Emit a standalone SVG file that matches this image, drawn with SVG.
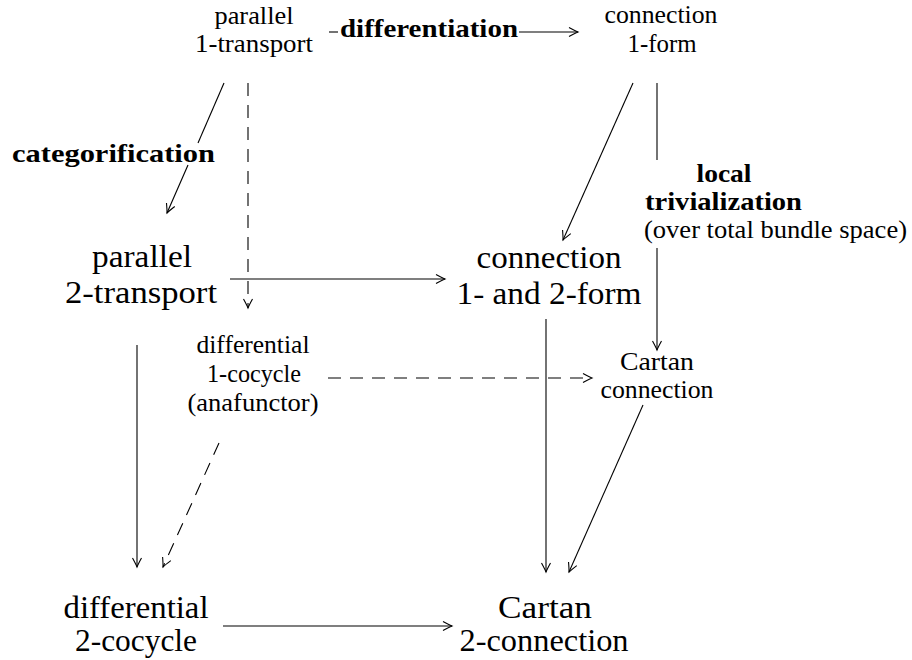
<svg xmlns="http://www.w3.org/2000/svg" width="912" height="660" viewBox="0 0 912 660" font-family="Liberation Serif, serif">
<defs>
<marker id="ah" markerUnits="userSpaceOnUse" markerWidth="20" markerHeight="20" viewBox="-12 -10 20 20" refX="0" refY="0" orient="auto" overflow="visible">
<path d="M-9,-4.5 Q-3,-1.2 0,0 Q-3,1.2 -9,4.5" fill="none" stroke="#000" stroke-width="1.1" stroke-dasharray="none"/>
</marker>
<style>
text{fill:#000;text-anchor:middle}
.s{font-size:25px}
.b{font-size:32px}
.l{font-size:25px;font-weight:bold}
.st{text-anchor:start}
.c line{stroke:#000;stroke-width:1.1;fill:none}
.c .d{stroke-dasharray:13 9}
.c .a{marker-end:url(#ah)}
</style>
</defs>
<rect width="912" height="660" fill="#fff"/>
<g id="n-par1" font-family="Liberation Serif, serif">
<text class="s" x="254" y="24" textLength="79" lengthAdjust="spacingAndGlyphs">parallel</text>
<text class="s" x="254" y="52" textLength="118" lengthAdjust="spacingAndGlyphs">1-transport</text>
</g>
<g id="n-conn1" font-family="Liberation Serif, serif">
<text class="s" x="661" y="23" textLength="113" lengthAdjust="spacingAndGlyphs">connection</text>
<text class="s" x="662" y="52" textLength="69" lengthAdjust="spacingAndGlyphs">1-form</text>
</g>
<g id="n-par2" font-family="Liberation Serif, serif">
<text class="b" x="142" y="267" textLength="100" lengthAdjust="spacingAndGlyphs">parallel</text>
<text class="b" x="141" y="303" textLength="152" lengthAdjust="spacingAndGlyphs">2-transport</text>
</g>
<g id="n-conn12" font-family="Liberation Serif, serif">
<text class="b" x="549" y="268" textLength="145" lengthAdjust="spacingAndGlyphs">connection</text>
<text class="b" x="549" y="304" textLength="185" lengthAdjust="spacingAndGlyphs">1- and 2-form</text>
</g>
<g id="n-diff1" font-family="Liberation Serif, serif">
<text class="s" x="253" y="353" textLength="113" lengthAdjust="spacingAndGlyphs">differential</text>
<text class="s" x="254" y="382" textLength="94" lengthAdjust="spacingAndGlyphs">1-cocycle</text>
<text class="s" x="253" y="411" textLength="131" lengthAdjust="spacingAndGlyphs">(anafunctor)</text>
</g>
<g id="n-cartan" font-family="Liberation Serif, serif">
<text class="s" x="657" y="370" textLength="74" lengthAdjust="spacingAndGlyphs">Cartan</text>
<text class="s" x="657" y="398" textLength="113" lengthAdjust="spacingAndGlyphs">connection</text>
</g>
<g id="n-diff2" font-family="Liberation Serif, serif">
<text class="b" x="136" y="618" textLength="145" lengthAdjust="spacingAndGlyphs">differential</text>
<text class="b" x="136" y="651" textLength="122" lengthAdjust="spacingAndGlyphs">2-cocycle</text>
</g>
<g id="n-cartan2" font-family="Liberation Serif, serif">
<text class="b" x="545" y="618" textLength="94" lengthAdjust="spacingAndGlyphs">Cartan</text>
<text class="b" x="544" y="651" textLength="169" lengthAdjust="spacingAndGlyphs">2-connection</text>
</g>
<g id="connectors" class="c">
<line x1="329" y1="32" x2="338" y2="32"/>
<line class="a" x1="519" y1="32" x2="578" y2="32"/>
<line x1="224" y1="83" x2="198" y2="143"/>
<line class="a" x1="188" y1="165" x2="167" y2="213"/>
<line class="d a" x1="248" y1="83" x2="248" y2="308"/>
<line class="a" x1="230" y1="279" x2="445" y2="279"/>
<line class="a" x1="633" y1="83" x2="563" y2="240"/>
<line x1="657" y1="83" x2="657" y2="160"/>
<line class="a" x1="657" y1="248" x2="657" y2="350"/>
<line class="d a" x1="328" y1="378" x2="592" y2="378"/>
<line class="a" x1="137" y1="345" x2="137" y2="567"/>
<line class="d a" x1="219" y1="443" x2="163" y2="567"/>
<line class="a" x1="546" y1="319" x2="546" y2="572"/>
<line class="a" x1="643" y1="405" x2="569" y2="572"/>
<line class="a" x1="223" y1="626" x2="452" y2="626"/>
</g>
<g id="labels" font-family="Liberation Serif, serif">
<text class="l st" x="340" y="37" textLength="178" lengthAdjust="spacingAndGlyphs">differentiation</text>
<text class="l st" x="12" y="162" textLength="203" lengthAdjust="spacingAndGlyphs">categorification</text>
<text class="l" x="724" y="182" textLength="55" lengthAdjust="spacingAndGlyphs">local</text>
<text class="l st" x="645" y="210" textLength="157" lengthAdjust="spacingAndGlyphs">trivialization</text>
<text class="s st" x="644" y="238" textLength="263" lengthAdjust="spacingAndGlyphs">(over total bundle space)</text>
</g>
</svg>
